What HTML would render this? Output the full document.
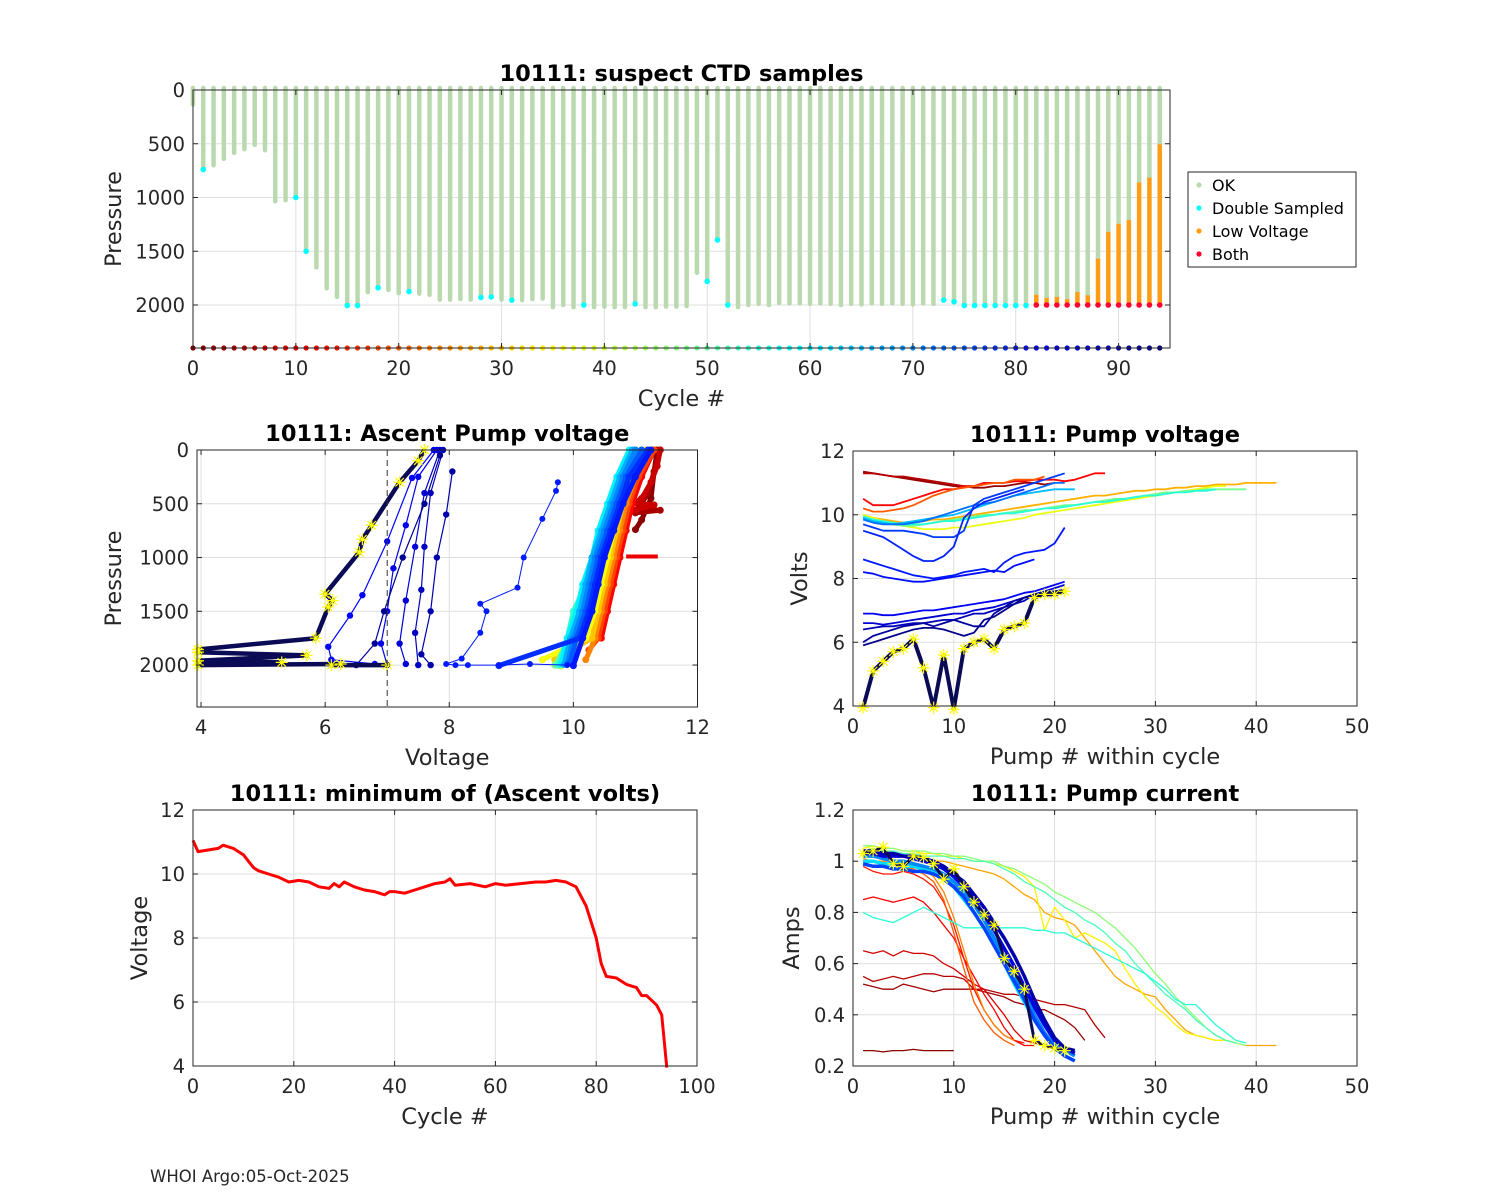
<!DOCTYPE html>
<html><head><meta charset="utf-8"><title>10111 pump diagnostics</title>
<style>
html,body{margin:0;padding:0;background:#fff;}
svg{display:block;}
text{font-family:"DejaVu Sans","Liberation Sans",sans-serif;fill:#262626;}
.tick{font-size:19.5px;}
.lab{font-size:22.5px;}
.ttl{font-size:22.5px;font-weight:bold;fill:#000;}
</style></head>
<body>
<svg id="fig" width="1500" height="1200" viewBox="0 0 1500 1200" xmlns="http://www.w3.org/2000/svg">
<rect width="1500" height="1200" fill="#fff"/>
<text x="150" y="1182" style="font-size:16.5px" fill="#000">WHOI Argo:05-Oct-2025</text>
</svg>
<script>
// ---------- TOP CHART DATA ----------
const topMaxPressure = [135,740,700,640,585,550,510,560,1035,1025,1000,1500,1650,1845,1925,2005,2005,1880,1840,1860,
1890,1875,1895,1905,1950,1950,1945,1950,1930,1925,1950,1955,1955,1945,1940,2020,2000,2020,2000,2020,
2015,2020,2020,1990,2020,2020,2015,2015,2010,1700,1780,1395,2000,2020,2000,1990,2000,1980,1985,1985,
1990,1985,1990,2000,1990,1995,1985,1990,1985,1990,1995,1985,1990,1955,1970,2005,2005,2005,2005,2005,
2005,2005,2000,2000,2000,2000,2000,2000,2000,2000,2000,2000,2000,2000,2000];
const doubleSampledCycles = [1,10,11,15,16,18,21,28,29,31,38,43,50,51,52,73,74,75,76,77,78,79,80,81];
const lowVoltCycles = [82,83,84,85,86,87,88,89,90,91,92,93,94];
const lowVoltStart = [1905,1935,1925,1945,1880,1910,1570,1320,1245,1210,860,815,505];
const topXTicks = [0,10,20,30,40,50,60,70,80,90];
const pressureTicks = [0,500,1000,1500,2000];

// ---------- MIN VOLTAGE DATA ----------
const minCycles = [0,1,3,5,6,8,10,11,12,13,15,17,19,21,23,25,27,28,29,30,32,34,36,38,39,40,42,44,46,48,50,51,52,55,58,60,62,65,68,70,72,74,76,78,80,81,82,84,86,88,89,90,92,93,94];
const minVolts = [11.05,10.7,10.75,10.8,10.9,10.8,10.6,10.4,10.2,10.1,10.0,9.9,9.75,9.8,9.75,9.6,9.55,9.7,9.6,9.75,9.6,9.5,9.45,9.35,9.45,9.45,9.4,9.5,9.6,9.7,9.75,9.85,9.65,9.7,9.6,9.7,9.65,9.7,9.75,9.75,9.8,9.75,9.6,9.0,8.0,7.2,6.8,6.75,6.55,6.45,6.2,6.2,5.9,5.6,3.95];

// ---------- ASCENT PUMP VOLTAGE DATA ----------
const ascCycles = [1,4,7,12,18,24,30,36,42,48,54,60,66,70,74,78,80];
const ascVolts = [
 [11.35,11.3,11.25,11.1,11.0],
 [11.4,11.3,11.2,11.05,11.4,11.0],
 [11.4,11.35,11.25,11.1,10.95,11.3,11.0],
 [11.3,11.1,10.95,10.85,10.75,10.65,10.55,10.45,10.3],
 [11.3,11.05,10.9,10.8,10.7,10.6,10.5,10.4,10.25],
 [11.25,11.0,10.85,10.75,10.65,10.55,10.45,10.35,10.2],
 [11.2,10.95,10.8,10.7,10.6,10.5,10.4,10.3,9.7],
 [11.15,10.9,10.75,10.65,10.55,10.45,10.35,10.2,9.5],
 [11.1,10.85,10.7,10.55,10.45,10.35,10.25,10.1,9.8],
 [11.0,10.8,10.65,10.5,10.4,10.25,10.05,9.95,9.7],
 [10.95,10.75,10.6,10.45,10.35,10.2,10.0,9.9,9.75],
 [10.9,10.7,10.55,10.4,10.3,10.15,10.05,9.9,9.8],
 [10.95,10.75,10.6,10.45,10.3,10.2,10.1,9.95,9.85],
 [11.0,10.8,10.65,10.5,10.35,10.25,10.15,10.0,9.9],
 [11.1,10.85,10.7,10.55,10.4,10.3,10.2,10.05,9.95],
 [11.2,10.9,10.75,10.6,10.45,10.35,10.25,10.1,8.8],
 [11.25,11.0,10.8,10.65,10.5,10.4,10.3,10.15,10.0]
];
const ascPress = [
 [0,200,450,650,740],
 [0,200,400,550,560,585],
 [0,150,300,450,500,510,560],
 [0,250,500,750,1000,1250,1500,1750,1650],
 [0,250,500,750,1000,1250,1500,1750,1860],
 [0,250,500,750,1000,1250,1500,1750,1950],
 [0,250,500,750,1000,1250,1500,1750,1950],
 [0,250,500,750,1000,1250,1500,1750,1950],
 [0,250,500,750,1000,1250,1500,1750,2010],
 [0,250,500,750,1000,1250,1500,1750,2000],
 [0,250,500,750,1000,1250,1500,1750,2000],
 [0,250,500,750,1000,1250,1500,1750,1990],
 [0,250,500,750,1000,1250,1500,1750,1995],
 [0,250,500,750,1000,1250,1500,1750,1990],
 [0,250,500,750,1000,1250,1500,1750,1970],
 [0,250,500,750,1000,1250,1500,1750,2005],
 [0,250,500,750,1000,1250,1500,1750,2005]
];
const ascRedStepVolts = [10.85,11.36];
const ascRedStepPress = [990,990];
const outlierVolts = [9.75,9.72,9.5,9.2,9.1,8.5,8.6,8.5,8.2,7.95,8.1,8.3,8.8,9.3,9.9];
const outlierPress = [300,380,640,1000,1280,1430,1500,1700,1940,1990,2000,2000,2000,1990,2000];
const navyCycles = [82,84,86,88,90,92];
const navyVolts = [
 [7.75,7.4,7.0,6.6,6.4,6.05,6.1,6.8],
 [7.8,7.5,7.3,7.1,7.0,6.9,7.0],
 [7.85,7.6,7.45,7.3,7.2,7.3],
 [7.9,7.7,7.6,7.55,7.45,7.5],
 [8.05,7.95,7.8,7.7,7.55,7.7],
 [7.85,7.6,7.25,6.95,6.8,6.5]
];
const navyPress = [
 [0,260,850,1350,1540,1830,1950,1990],
 [0,250,700,1100,1500,1800,2000],
 [0,400,900,1400,1800,1990],
 [0,400,900,1300,1700,2000],
 [200,600,1000,1500,1900,2000],
 [50,500,1000,1500,1800,2000]
];
const lastVolts = [7.6,7.5,7.2,6.75,6.6,6.55,6.0,6.12,6.05,5.85,3.95,3.95,5.7,3.95,5.3,3.95,6.25,6.1,7.0];
const lastPress = [0,100,300,700,830,950,1340,1400,1460,1750,1855,1880,1910,1960,1975,2000,1990,2000,2000];

// ---------- PUMP VOLTAGE ----------
const pvCycles = [2,5,12,20,28,37,48,55,65,72,77,79,80,81,83,86,89,91,93];
const pvVolts = [
 [11.35,11.3,11.25,11.2,11.15,11.1,11.05,11.0,10.95,10.9,10.9,10.85,10.85,10.9,10.9,10.95,11.0,11.0,10.95,11.0],
 [11.3,11.3,11.25,11.2,11.2,11.15,11.1,11.05,11.0,10.95,10.9,10.9,10.95],
 [10.5,10.3,10.3,10.3,10.4,10.5,10.6,10.7,10.8,10.8,10.9,10.9,11.0,11.0,11.0,11.05,11.05,11.1,11.1,11.1,11.05,11.1,11.2,11.3,11.3],
 [10.2,10.1,10.1,10.15,10.2,10.3,10.45,10.6,10.7,10.8,10.85,10.9,10.95,11.0,11.0,11.1,11.1,11.1,11.2],
 [10.0,9.9,9.85,9.8,9.75,9.75,9.8,9.85,9.85,9.9,9.95,10.0,10.05,10.1,10.15,10.2,10.25,10.3,10.35,10.4,10.45,10.5,10.55,10.6,10.6,10.65,10.7,10.75,10.75,10.8,10.8,10.85,10.85,10.9,10.9,10.95,10.95,10.95,11.0,11.0,11.0,11.0],
 [10.0,9.9,9.8,9.7,9.65,9.6,9.55,9.55,9.55,9.6,9.6,9.65,9.7,9.75,9.8,9.85,9.9,10.0,10.05,10.1,10.15,10.2,10.25,10.3,10.35,10.4,10.45,10.5,10.55,10.6,10.65,10.7,10.75,10.8,10.85,10.9,10.9],
 [9.9,9.8,9.75,9.7,9.65,9.65,9.7,9.75,9.8,9.85,9.9,9.95,10.0,10.0,10.05,10.1,10.15,10.15,10.2,10.25,10.3,10.3,10.35,10.4,10.45,10.5,10.5,10.55,10.6,10.65,10.7,10.7,10.75,10.75,10.8,10.8,10.8,10.8,10.8],
 [9.95,9.85,9.8,9.75,9.7,9.7,9.7,9.75,9.8,9.8,9.85,9.9,9.95,10.0,10.05,10.05,10.1,10.15,10.2,10.2,10.25,10.3,10.35,10.4,10.4,10.45,10.5,10.55,10.6,10.6,10.65,10.7,10.7,10.75,10.75,10.8],
 [9.9,9.8,9.75,9.7,9.75,9.8,9.85,9.9,9.95,10.0,10.1,10.2,10.3,10.4,10.5,10.6,10.65,10.7,10.75,10.8,10.8,10.8],
 [9.85,9.75,9.7,9.7,9.7,9.75,9.8,9.9,10.0,10.1,10.2,10.3,10.35,10.4,10.5,10.6,10.7,10.8,10.9,11.0,11.0],
 [9.7,9.6,9.5,9.5,9.5,9.45,9.4,9.3,9.3,9.3,9.5,10.3,10.5,10.6,10.7,10.8,10.9,11.0,11.1,11.2,11.3],
 [9.5,9.4,9.3,9.1,8.9,8.7,8.55,8.55,8.7,9.0,9.9,10.2,10.4,10.5,10.6,10.7,10.8],
 [8.6,8.5,8.4,8.3,8.2,8.1,8.05,8.0,8.05,8.1,8.2,8.25,8.3,8.2,8.5,8.7,8.8,8.85,8.9,9.1,9.6],
 [8.2,8.15,8.05,8.0,7.95,7.9,7.9,7.95,8.0,8.05,8.1,8.15,8.2,8.25,8.2,8.4,8.5,8.6],
 [6.9,6.9,6.85,6.85,6.9,6.95,7.0,7.0,7.05,7.1,7.15,7.2,7.25,7.3,7.35,7.45,7.55,7.6,7.7,7.8,7.9],
 [6.6,6.6,6.55,6.6,6.65,6.7,6.75,6.8,6.85,6.9,6.9,7.0,7.05,7.1,7.2,7.3,7.4,7.5,7.6,7.7,7.8],
 [6.4,6.45,6.5,6.5,6.55,6.6,6.6,6.65,6.7,6.7,6.8,6.9,6.9,7.0,7.1,7.2,7.3,7.5,7.55,7.6,7.65],
 [6.0,6.2,6.3,6.4,6.5,6.55,6.6,6.5,6.6,6.7,6.6,6.5,6.5,6.9,7.1,7.3,7.4,7.5,7.55,7.6],
 [5.9,6.0,6.1,6.2,6.3,6.4,6.45,6.45,6.4,6.3,6.2,6.3,6.7,6.8,7.0,7.2,7.4,7.5,7.55]
];
const pvLast = [3.95,5.1,5.4,5.7,5.8,6.1,5.2,3.95,5.6,3.9,5.8,6.0,6.1,5.8,6.4,6.5,6.6,7.4,7.5,7.5,7.6];

// ---------- PUMP CURRENT ----------
const pcCycles = [1,3,5,8,11,14,20,24,27,34,46,52,55,62,70,76,85,90];
const pcAmps = [
 [0.26,0.26,0.255,0.26,0.26,0.265,0.26,0.26,0.26,0.26],
 [0.52,0.51,0.5,0.5,0.52,0.51,0.5,0.49,0.5,0.5,0.5,0.5,0.49,0.48,0.47,0.45,0.44,0.42,0.42,0.4,0.38,0.35,0.3],
 [0.55,0.53,0.54,0.55,0.54,0.55,0.56,0.56,0.55,0.55,0.54,0.5,0.5,0.49,0.48,0.48,0.47,0.46,0.45,0.44,0.44,0.43,0.42,0.36,0.31],
 [0.65,0.64,0.65,0.63,0.65,0.64,0.64,0.63,0.6,0.58,0.55,0.52,0.5,0.45,0.4,0.34,0.3,0.29,0.28],
 [0.85,0.86,0.85,0.84,0.85,0.86,0.84,0.8,0.75,0.7,0.62,0.55,0.48,0.42,0.35,0.3,0.28,0.28],
 [0.98,0.96,0.95,0.95,0.96,0.95,0.93,0.9,0.84,0.75,0.62,0.5,0.42,0.36,0.32,0.3,0.29],
 [1.0,1.0,0.99,0.99,0.98,0.97,0.95,0.92,0.85,0.72,0.58,0.45,0.38,0.33,0.3,0.28],
 [1.01,1.0,1.0,0.99,0.99,0.98,0.97,0.94,0.88,0.78,0.65,0.52,0.42,0.36,0.32,0.3],
 [1.04,1.04,1.03,1.03,1.02,1.02,1.01,1.0,1.0,0.99,0.98,0.97,0.96,0.95,0.93,0.9,0.87,0.85,0.8,0.78,0.77,0.75,0.7,0.65,0.6,0.55,0.52,0.5,0.48,0.47,0.42,0.38,0.34,0.32,0.31,0.3,0.3,0.29,0.28,0.28,0.28,0.28],
 [1.05,1.06,1.05,1.05,1.04,1.04,1.03,1.03,1.02,1.02,1.01,1.0,1.0,0.99,0.98,0.96,0.94,0.9,0.73,0.82,0.77,0.7,0.72,0.7,0.68,0.65,0.58,0.52,0.47,0.43,0.4,0.36,0.33,0.32,0.31,0.3,0.3,0.29],
 [1.06,1.06,1.05,1.05,1.04,1.04,1.04,1.03,1.03,1.02,1.02,1.01,1.0,1.0,0.98,0.97,0.95,0.93,0.91,0.88,0.86,0.84,0.82,0.8,0.77,0.74,0.7,0.66,0.61,0.56,0.52,0.47,0.43,0.39,0.35,0.32,0.3,0.29,0.28],
 [1.04,1.05,1.04,1.04,1.03,1.03,1.02,1.02,1.02,1.01,1.01,1.0,1.0,0.99,0.97,0.95,0.92,0.9,0.88,0.85,0.82,0.8,0.77,0.75,0.72,0.68,0.65,0.6,0.56,0.52,0.48,0.45,0.42,0.38,0.35,0.32,0.3,0.29],
 [0.8,0.78,0.77,0.76,0.78,0.8,0.82,0.8,0.78,0.76,0.74,0.74,0.74,0.74,0.74,0.74,0.74,0.73,0.73,0.72,0.72,0.7,0.68,0.66,0.64,0.62,0.6,0.58,0.56,0.53,0.5,0.46,0.44,0.44,0.4,0.36,0.33,0.3,0.29],
 [1.0,1.0,0.99,0.99,0.98,0.98,0.97,0.96,0.94,0.9,0.85,0.8,0.74,0.68,0.6,0.52,0.45,0.38,0.32,0.28,0.26,0.25],
 [1.02,1.02,1.01,1.0,1.0,0.99,0.98,0.97,0.95,0.92,0.88,0.83,0.77,0.7,0.63,0.56,0.48,0.4,0.33,0.28,0.26,0.24],
 [0.99,0.98,0.98,0.97,0.97,0.96,0.96,0.95,0.93,0.9,0.86,0.8,0.74,0.67,0.6,0.53,0.46,0.38,0.32,0.27,0.24,0.22],
 [1.03,1.03,1.02,1.02,1.02,1.01,1.0,0.99,0.97,0.94,0.9,0.85,0.79,0.73,0.66,0.59,0.51,0.43,0.36,0.3,0.27,0.25],
 [1.04,1.04,1.03,1.03,1.02,1.02,1.01,1.0,0.98,0.95,0.92,0.87,0.82,0.76,0.7,0.63,0.55,0.46,0.38,0.31,0.27,0.26]
];
const pcLast = [1.03,1.04,1.055,0.99,0.98,1.02,1.015,0.99,0.93,0.97,0.9,0.84,0.79,0.75,0.62,0.57,0.5,0.3,0.28,0.27,0.26];

// ---------- helpers ----------
const NS = 'http://www.w3.org/2000/svg';
const fig = document.getElementById('fig');
function el(tag, attrs, parent){
  const e = document.createElementNS(NS, tag);
  for (const k in attrs) e.setAttribute(k, attrs[k]);
  (parent||fig).appendChild(e);
  return e;
}
function jet(t){
  const c = v => Math.round(255*Math.max(0,Math.min(1,v)));
  return 'rgb('+c(1.5-Math.abs(4*t-3))+','+c(1.5-Math.abs(4*t-2))+','+c(1.5-Math.abs(4*t-1))+')';
}
function cycColor(c){ return jet(1 - c/94); }

function makeAxes(cfg){
  const g = el('g', {});
  
  
  const sx = v => cfg.px0 + (v - cfg.xmin)/(cfg.xmax - cfg.xmin)*(cfg.px1 - cfg.px0);
  const sy = cfg.rev ? (v => cfg.py0 + (v - cfg.ymin)/(cfg.ymax - cfg.ymin)*(cfg.py1 - cfg.py0))
                     : (v => cfg.py1 - (v - cfg.ymin)/(cfg.ymax - cfg.ymin)*(cfg.py1 - cfg.py0));
  const grid = el('g', {}, g);
  
  
  cfg.xticks.forEach(t => el('line', {x1:sx(t), x2:sx(t), y1:cfg.py0, y2:cfg.py1, stroke:'#dfdfdf', 'stroke-width':1}, grid));
  cfg.yticks.forEach(t => el('line', {x1:cfg.px0, x2:cfg.px1, y1:sy(t), y2:sy(t), stroke:'#dfdfdf', 'stroke-width':1}, grid));
  const plot = el('g', {}, g);
  
  
  const frame = el('g', {}, g);
  cfg.xticks.forEach(t => {
    const x = sx(t);
    el('line', {x1:x, x2:x, y1:cfg.py1, y2:cfg.py1-5, stroke:'#262626'}, frame);
    el('line', {x1:x, x2:x, y1:cfg.py0, y2:cfg.py0+5, stroke:'#262626'}, frame);
    const tx = el('text', {x:x, y:cfg.py1+27, 'text-anchor':'middle', class:'tick'}, frame);
    tx.textContent = t;
    
    
  });
  cfg.yticks.forEach(t => {
    const y = sy(t);
    el('line', {x1:cfg.px0, x2:cfg.px0+5, y1:y, y2:y, stroke:'#262626'}, frame);
    el('line', {x1:cfg.px1, x2:cfg.px1-5, y1:y, y2:y, stroke:'#262626'}, frame);
    const ty = el('text', {x:cfg.px0-8, y:y+7, 'text-anchor':'end', class:'tick'}, frame);
    ty.textContent = t;
    
    
  });
  const box = el('rect', {x:cfg.px0, y:cfg.py0, width:cfg.px1-cfg.px0, height:cfg.py1-cfg.py0, fill:'none', stroke:'#262626', 'stroke-width':1}, frame);
  
  
  const tt = el('text', {x:(cfg.px0+cfg.px1)/2, y:cfg.py0-9, 'text-anchor':'middle', class:'ttl'}, frame);
  tt.textContent = cfg.title;
  
  
  const xl = el('text', {x:(cfg.px0+cfg.px1)/2, y:cfg.py1+58, 'text-anchor':'middle', class:'lab'}, frame);
  xl.textContent = cfg.xlabel;
  
  
  const yc = (cfg.py0+cfg.py1)/2, yx = cfg.ylx;
  const yl = el('text', {x:yx, y:yc, 'text-anchor':'middle', class:'lab', transform:'rotate(-90 '+yx+' '+yc+')'}, frame);
  yl.textContent = cfg.ylabel;
  
  
  return {sx, sy, plot, cfg};
}
function poly(ax, xs, ys, color, w, name){
  const pts = xs.map((x,i) => ax.sx(x).toFixed(1)+','+ax.sy(ys[i]).toFixed(1)).join(' ');
  const p = el('polyline', {points:pts, fill:'none', stroke:color, 'stroke-width':w, 'stroke-linejoin':'round'}, ax.plot);
  
  
  return p;
}
function dots(ax, xs, ys, color, r, name){
  xs.forEach((x,i) => {
    const c = el('circle', {cx:ax.sx(x), cy:ax.sy(ys[i]), r:r, fill:color}, ax.plot);
    
    
  });
}
function star(ax, x, y, name){
  const cx = ax.sx(x), cy = ax.sy(y), s = 6;
  const d = `M${cx-s},${cy}H${cx+s}M${cx},${cy-s}V${cy+s}M${cx-s*0.7},${cy-s*0.7}L${cx+s*0.7},${cy+s*0.7}M${cx-s*0.7},${cy+s*0.7}L${cx+s*0.7},${cy-s*0.7}`;
  const p = el('path', {d:d, stroke:'#ffff00', 'stroke-width':1.2, fill:'none'}, ax.plot);
  
  
}
const idx = n => Array.from({length:n}, (_,i) => i+1);

// ---------- TOP ----------
const axTop = makeAxes({name:'suspect-ctd-chart', px0:193, px1:1170, py0:90, py1:348, xmin:0, xmax:95, ymin:0, ymax:2400, rev:true,
  xticks:topXTicks, yticks:pressureTicks, title:'10111: suspect CTD samples', xlabel:'Cycle #', ylabel:'Pressure', ylx:121});
topMaxPressure.forEach((p,c) => {
  const x = axTop.sx(c);
  const li = lowVoltCycles.indexOf(c);
  const greenEnd = li >= 0 ? lowVoltStart[li] : p;
  const b = el('line', {x1:x, x2:x, y1:axTop.sy(0)-2, y2:axTop.sy(greenEnd), stroke:'#bad9ae', 'stroke-width':4.5, 'stroke-linecap':'round'}, axTop.plot);
  
  
  if (li >= 0){
    const o = el('line', {x1:x, x2:x, y1:axTop.sy(lowVoltStart[li]), y2:axTop.sy(p), stroke:'#ff9d14', 'stroke-width':4.5}, axTop.plot);
    
    
    const r = el('circle', {cx:x, cy:axTop.sy(p), r:2.8, fill:'#ff0030'}, axTop.plot);
    
    
  } else if (doubleSampledCycles.indexOf(c) >= 0){
    const d = el('circle', {cx:x, cy:axTop.sy(p), r:2.8, fill:'#00ffff'}, axTop.plot);
    
    
  }
  const m = el('circle', {cx:x, cy:axTop.sy(2400), r:2.6, fill:cycColor(c)}, axTop.plot);
  
  
});
const lg = el('g', {});


el('rect', {x:1188, y:172, width:168, height:95, fill:'#fff', stroke:'#262626', 'stroke-width':1}, lg);
const legendLabels = ['OK','Double Sampled','Low Voltage','Both'];
const legendColors = ['#bad9ae','#00ffff','#ff9d14','#ff0030'];
legendLabels.forEach((t,i) => {
  const y = 185 + i*23;
  const c = el('circle', {cx:1199, cy:y, r:2.6, fill:legendColors[i]}, lg);
  
  
  const tx = el('text', {x:1212, y:y+6, style:'font-size:16px;fill:#000'}, lg);
  tx.textContent = t;
  
  
});

// ---------- MIDDLE LEFT ----------
const axAsc = makeAxes({name:'ascent-pump-voltage-chart', px0:197, px1:697.5, py0:450, py1:707, xmin:3.935, xmax:12, ymin:0, ymax:2390, rev:true,
  xticks:[4,6,8,10,12], yticks:pressureTicks, title:'10111: Ascent Pump voltage', xlabel:'Voltage', ylabel:'Pressure', ylx:121});
ascCycles.forEach((c,i) => {
  poly(axAsc, ascVolts[i], ascPress[i], cycColor(c), 5, 'ascent-series-band');
  poly(axAsc, ascVolts[i], ascPress[i], cycColor(c), 1, 'ascent-series');
  dots(axAsc, ascVolts[i], ascPress[i], cycColor(c), 3.5, 'ascent-point');
});
poly(axAsc, ascRedStepVolts, ascRedStepPress, cycColor(10), 4, 'ascent-red-step');
poly(axAsc, outlierVolts, outlierPress, jet(0.15), 1, 'ascent-outlier-series');
dots(axAsc, outlierVolts, outlierPress, jet(0.15), 3, 'ascent-point');
navyCycles.forEach((c,i) => {
  poly(axAsc, navyVolts[i], navyPress[i], cycColor(c), 1.2, 'ascent-low-series');
  dots(axAsc, navyVolts[i], navyPress[i], cycColor(c), 3.2, 'ascent-point');
});
poly(axAsc, lastVolts, lastPress, '#0a0a55', 4.5, 'ascent-last-cycle');
lastVolts.forEach((v,i) => star(axAsc, v, lastPress[i], 'ascent-last-star'));
const vdash = el('line', {x1:axAsc.sx(7), x2:axAsc.sx(7), y1:450, y2:707, stroke:'#333', 'stroke-width':1, 'stroke-dasharray':'6,4'}, axAsc.plot);



// ---------- MIDDLE RIGHT ----------
const axPV = makeAxes({name:'pump-voltage-chart', px0:853, px1:1357, py0:451, py1:706, xmin:0, xmax:50, ymin:4, ymax:12,
  xticks:[0,10,20,30,40,50], yticks:[4,6,8,10,12], title:'10111: Pump voltage', xlabel:'Pump # within cycle', ylabel:'Volts', ylx:807});
pvCycles.forEach((c,i) => {
  poly(axPV, idx(pvVolts[i].length), pvVolts[i], cycColor(c), 1.8, 'pump-voltage-series');
});
poly(axPV, idx(pvLast.length), pvLast, '#0a0a55', 4, 'pump-voltage-last-cycle');
pvLast.forEach((v,i) => star(axPV, i+1, v, 'pump-voltage-star'));

// ---------- BOTTOM LEFT ----------
const axMin = makeAxes({name:'min-ascent-volts-chart', px0:193, px1:697, py0:810, py1:1066, xmin:0, xmax:100, ymin:4, ymax:12,
  xticks:[0,20,40,60,80,100], yticks:[4,6,8,10,12], title:'10111: minimum of (Ascent volts)', xlabel:'Cycle #', ylabel:'Voltage', ylx:147});
poly(axMin, minCycles, minVolts, '#ff0000', 3, 'min-voltage-line');

// ---------- BOTTOM RIGHT ----------
const axPC = makeAxes({name:'pump-current-chart', px0:853, px1:1357, py0:810, py1:1066, xmin:0, xmax:50, ymin:0.2, ymax:1.2,
  xticks:[0,10,20,30,40,50], yticks:[0.2,0.4,0.6,0.8,1,1.2], title:'10111: Pump current', xlabel:'Pump # within cycle', ylabel:'Amps', ylx:799});
pcCycles.forEach((c,i) => {
  const w = (c >= 60) ? 3.5 : 1.3;
  poly(axPC, idx(pcAmps[i].length), pcAmps[i], cycColor(c), w, 'pump-current-series');
});
poly(axPC, idx(pcLast.length), pcLast, '#0a0a55', 3, 'pump-current-last-cycle');
pcLast.forEach((v,i) => star(axPC, i+1, v, 'pump-current-star'));
</script>
</body></html>
